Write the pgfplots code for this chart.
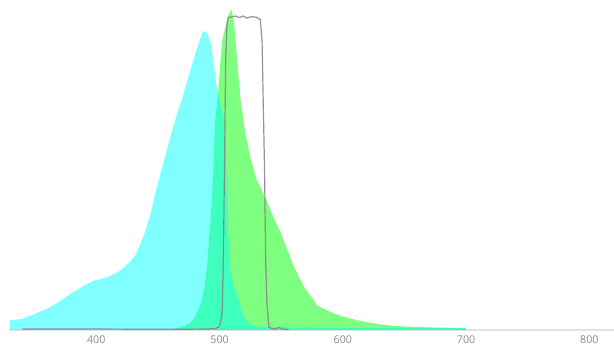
\documentclass[border=0pt]{standalone}
\usepackage{fontspec}
\setsansfont{Open Sans}
\usepackage{pgfplots}
\pgfplotsset{compat=1.18}
\definecolor{axisline}{HTML}{DDE3EA}
\definecolor{ticktext}{HTML}{8A8A8A}
\definecolor{purecyan}{RGB}{0,255,255}
\definecolor{puregreen}{RGB}{0,255,0}
\definecolor{filtergray}{RGB}{130,130,130}
\begin{document}
\begin{tikzpicture}
\begin{axis}[
  name=ax,
  scale only axis,
  width=453pt, height=247.5pt,
  xmin=330, xmax=820, ymin=0, ymax=1.029,
  axis x line=bottom, axis y line=none,
  x axis line style={draw=axisline, line width=1.2pt, -},
  xtick={400,500,600,700,800},
  major tick length=0pt,
  xticklabel style={font=\sffamily\fontsize{8}{9}\selectfont, text=ticktext, yshift=-1pt},
  /pgf/number format/assume math mode=true,
  clip=false,
]
% emission (green)
\addplot[draw=none, fill=puregreen, fill opacity=0.5] coordinates {
(460,0) (465,0.005) (470,0.01) (476,0.02) (480,0.04) (483,0.065) (485.7,0.094) (488,0.14) (489.8,0.197) (491.5,0.28) (493.8,0.405) (495.5,0.55) (496.5,0.655) (499,0.75) (502,0.9) (505,0.95) (507.5,0.985) (509.5,1.0) (511.3,0.97) (513,0.9) (515,0.81) (517,0.72) (521,0.61) (525.5,0.53) (530,0.47) (538,0.405) (544,0.35) (550,0.30) (555,0.25) (560,0.20) (565,0.16) (570,0.125) (575,0.1) (577.5,0.088) (578,0.08) (580,0.075) (585,0.065) (592,0.053) (600,0.042) (611,0.031) (620,0.024) (633,0.016) (650,0.011) (670,0.008) (699,0.006) (700,0)
} \closedcycle;
% excitation (cyan)
\addplot[draw=none, fill=purecyan, fill opacity=0.5] coordinates {
(330,0) (330,0.03) (340,0.035) (350,0.05) (360,0.066) (370,0.088) (380,0.115) (390,0.138) (397,0.153) (403,0.158) (410,0.166) (417,0.18) (423,0.196) (428,0.215) (432,0.235) (436,0.27) (440,0.31) (444,0.36) (448,0.43) (453,0.5) (460,0.6) (466,0.68) (470,0.725) (474,0.78) (478,0.83) (481,0.87) (484,0.905) (486,0.925) (488,0.933) (490,0.925) (492.5,0.9) (495,0.84) (498,0.75) (501,0.7) (503,0.66) (504.7,0.6) (505.5,0.5) (506,0.405) (507,0.3) (508.7,0.197) (511,0.14) (515.5,0.094) (519,0.05) (523.6,0.02) (528,0.012) (540,0.009) (600,0.007) (699,0.006) (700,0)
} \closedcycle;
% filter (gray line)
\addplot[draw=filtergray, draw opacity=0.85, line width=0.9pt] coordinates {
(340,0.003) (400,0.003) (460,0.002) (490,0.003) (497,0.005) (500,0.01) (502,0.05) (503,0.2) (504,0.5) (505,0.85) (506,0.95) (507,0.975) (510,0.976) (513,0.979) (516,0.974) (519,0.979) (522,0.973) (526,0.977) (530,0.975) (533,0.968) (534.5,0.9) (535.5,0.7) (536.5,0.5) (537.5,0.2) (538.5,0.08) (540,0.01) (542,0.005) (545,0.003) (548,0.008) (551,0.003) (556,0.002)
};
\end{axis}
\pgfresetboundingbox
\path[use as bounding box] ([xshift=-7.5pt,yshift=-11.25pt]ax.south west) rectangle (ax.north east);
\end{tikzpicture}
\end{document}
